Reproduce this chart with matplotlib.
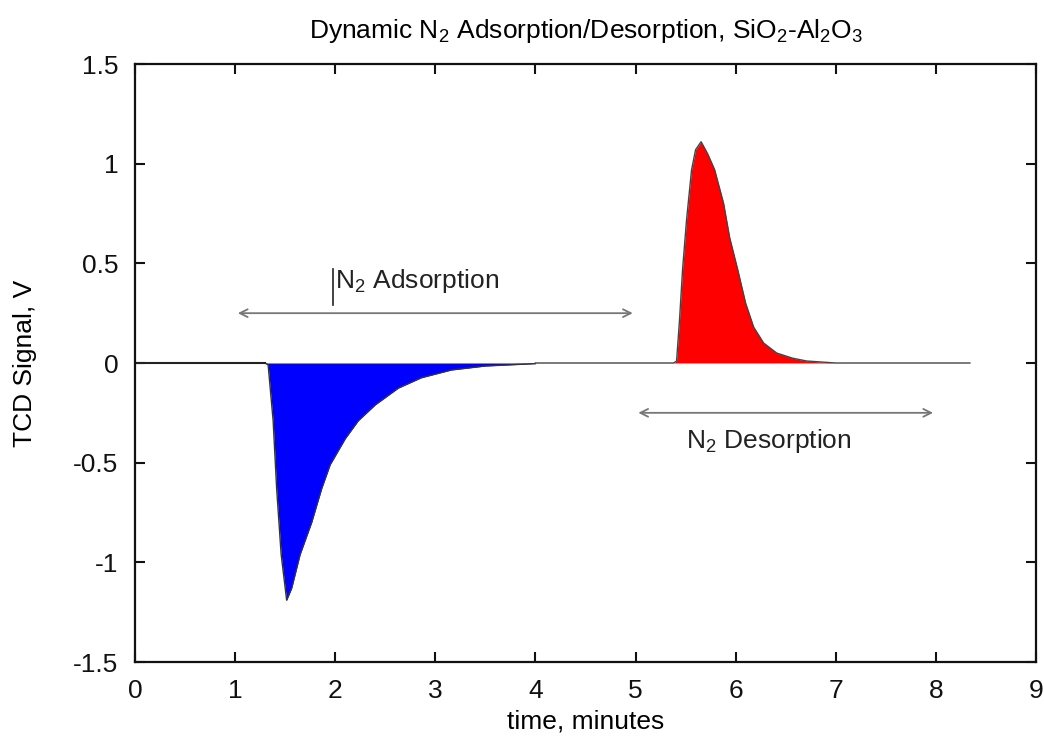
import numpy as np
import matplotlib
matplotlib.use("Agg")
import matplotlib.pyplot as plt
from matplotlib.ticker import FuncFormatter

plt.rcParams['font.family'] = ['Liberation Sans', 'DejaVu Sans']
plt.rcParams['axes.unicode_minus'] = False
plt.rcParams['mathtext.fontset'] = 'custom'
plt.rcParams['mathtext.rm'] = 'Liberation Sans'

# Adsorptions-Peak (negativ)
ads_t = [0.0, 1.30, 1.33, 1.38, 1.415, 1.46, 1.515, 1.565, 1.65, 1.765, 1.865,
         1.95, 2.10, 2.23, 2.40, 2.63, 2.86, 3.16, 3.50, 4.00]
ads_v = [0.0, 0.0, -0.01, -0.29, -0.63, -0.96, -1.19, -1.13, -0.96, -0.80, -0.63,
         -0.51, -0.38, -0.29, -0.21, -0.126, -0.074, -0.035, -0.015, -0.003]

# Desorptions-Peak (positiv)
des_t = [4.00, 5.38, 5.41, 5.44, 5.47, 5.51, 5.56, 5.60, 5.655, 5.72, 5.79, 5.88,
         5.94, 6.02, 6.10, 6.18, 6.28, 6.41, 6.57, 6.71, 7.00, 8.34]
des_v = [0.0, 0.0, 0.01, 0.22, 0.47, 0.72, 0.97, 1.07, 1.11, 1.05, 0.97, 0.80,
         0.63, 0.47, 0.30, 0.18, 0.10, 0.05, 0.024, 0.01, 0.0, 0.0]

x_ticks = [0, 1, 2, 3, 4, 5, 6, 7, 8, 9]
y_ticks = [-1.5, -1, -0.5, 0, 0.5, 1, 1.5]

fs = 19

fig = plt.figure(figsize=(10.44, 7.46), dpi=100)
ax = fig.add_axes([0.1293, 0.1126, 0.8630, 0.8016])

ads_t = np.array(ads_t); ads_v = np.array(ads_v)
des_t = np.array(des_t); des_v = np.array(des_v)

ax.fill_between(ads_t, ads_v, 0, color='#0000ff', lw=0)
ax.fill_between(des_t, des_v, 0, color='#ff0000', lw=0)
ax.plot(ads_t, ads_v, color='#333333', lw=1.0)
ax.plot(des_t, des_v, color='#444444', lw=1.0)
ax.plot([0, 1.3], [0, 0], color='#222222', lw=1.5)

# Pfeile mit Beschriftung
arrow = dict(arrowstyle='<->', color='#777777', lw=1.3, mutation_scale=14)
ax.annotate('', xy=(1.0, 0.25), xytext=(5.0, 0.25), arrowprops=arrow)
ax.annotate('', xy=(5.0, -0.25), xytext=(8.0, -0.25), arrowprops=arrow)
ax.text(2.0, 0.41, r'N$_2$ Adsorption', fontsize=fs, ha='left', va='center', color='#222222')
ax.plot([1.98, 1.98], [0.29, 0.47], color='#222222', lw=1.2)
ax.text(5.5, -0.39, r'N$_2$ Desorption', fontsize=fs, ha='left', va='center', color='#222222')

ax.set_xlim(0, 9)
ax.set_ylim(-1.5, 1.5)
ax.set_xticks(x_ticks)
ax.set_yticks(y_ticks)
ax.yaxis.set_major_formatter(FuncFormatter(lambda v, p: '%g' % v))
ax.tick_params(direction='in', top=True, right=True, length=7, width=1.5,
               labelsize=fs, pad=12, colors='#111111')
for s in ax.spines.values():
    s.set_linewidth(1.6)
    s.set_color('#111111')

ax.set_xlabel('time, minutes', fontsize=fs, va='center')
ax.xaxis.set_label_coords(0.5, -0.100)
ax.set_ylabel('TCD Signal, V', fontsize=fs, va='center')
ax.yaxis.set_label_coords(-0.122, 0.5)
fig.text(0.561, 0.958, r'Dynamic N$_2$ Adsorption/Desorption, SiO$_2$-Al$_2$O$_3$',
         fontsize=fs, ha='center', va='center')

plt.savefig('out.png', dpi=100)
